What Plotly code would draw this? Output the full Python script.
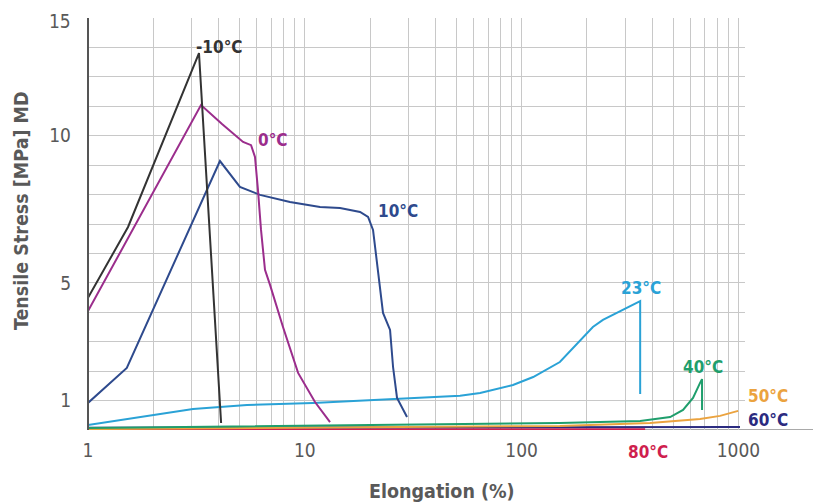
import plotly.graph_objects as go

# ---- data ----
m10_x = [1, 1.53, 3.25, 4.11]
m10_y = [4.49, 6.90, 12.81, 0.24]

c0_x = [1, 3.32, 4.15, 5.19, 5.65, 5.89, 6.08, 6.28, 6.55, 6.91, 7.93, 9.31, 11.14, 13.07]
c0_y = [4.04, 11.04, 10.40, 9.79, 9.68, 9.28, 8.15, 6.80, 5.44, 4.93, 3.50, 1.94, 0.95, 0.27]

c10_x = [1, 1.51, 4.06, 5.02, 6.21, 8.54, 11.75, 14.53, 17.98, 19.57, 20.63, 21.53, 22.94, 24.72, 25.52, 26.62, 29.60]
c10_y = [0.92, 2.11, 9.14, 8.26, 7.99, 7.75, 7.58, 7.54, 7.41, 7.24, 6.80, 5.67, 3.98, 3.40, 2.14, 1.09, 0.44]

c23_x = [1, 2.0, 3.05, 4.06, 5.41, 10.9, 26.9, 52.0, 64.3, 91.2, 113, 150, 213, 237, 352, 352]
c23_y = [0.17, 0.51, 0.71, 0.78, 0.85, 0.92, 1.05, 1.16, 1.26, 1.53, 1.80, 2.31, 3.50, 3.74, 4.38, 1.22]

c40_x = [1, 14.5, 150, 352, 484, 555, 617, 665, 679, 679]
c40_y = [0.07, 0.17, 0.24, 0.31, 0.44, 0.68, 1.09, 1.60, 1.73, 0.68]

c50_x = [1, 150, 391, 665, 822, 915, 996]
c50_y = [0.03, 0.14, 0.24, 0.37, 0.48, 0.58, 0.65]

c60_x = [1, 1016]
c60_y = [0.08, 0.10]

c80_x = [1, 371]
c80_y = [0.0, 0.0]

x_grid_vals = [1, 2, 3, 4, 5, 6, 7, 8, 9, 10, 20, 30, 40, 50, 60, 70, 80, 90,
               100, 200, 300, 400, 500, 600, 700, 800, 900, 1000]
x_tick_labels = {1: "1", 10: "10", 100: "100", 1000: "1000"}
y_grid_vals = list(range(1, 14))
y_tick_labels = {1: "1", 5: "5", 10: "10"}
y_top_label = "15"

series = [
    ("80°C", c80_x, c80_y, "#cf1f4e", 3.5),
    ("60°C", c60_x, c60_y, "#2b2b80", 2),
    ("50°C", c50_x, c50_y, "#eba33f", 2),
    ("40°C", c40_x, c40_y, "#1f9e6c", 2),
    ("23°C", c23_x, c23_y, "#2aa2d6", 2),
    ("10°C", c10_x, c10_y, "#2e4a8d", 2),
    ("0°C", c0_x, c0_y, "#9b2d8c", 2),
    ("-10°C", m10_x, m10_y, "#333333", 2),
]

# label positions in paper fractions of the plot area
labels = [
    ("-10°C", 0.2009, 0.9296, "#333333"),
    ("0°C", 0.2816, 0.7039, "#9b2d8c"),
    ("10°C", 0.4718, 0.5316, "#2e4a8d"),
    ("23°C", 0.8417, 0.3447, "#2aa2d6"),
    ("40°C", 0.9361, 0.1529, "#1f9e6c"),
    ("50°C", 1.035, 0.0825, "#eba33f"),
    ("60°C", 1.035, 0.0243, "#2b2b80"),
    ("80°C", 0.852, -0.0534, "#cf1f4e"),
]

FONT = "DejaVu Sans Condensed, DejaVu Sans, sans-serif"
GRAY = "#595959"

fig = go.Figure()
for name, xs, ys, col, w in series:
    fig.add_trace(go.Scatter(x=xs, y=ys, mode="lines", name=name,
                             line=dict(color=col, width=w), cliponaxis=False,
                             hoverinfo="skip"))

for txt, lx, ly, col in labels:
    fig.add_annotation(x=lx, y=ly, xref="paper", yref="paper", text=f"<b>{txt}</b>",
                       showarrow=False, xanchor="center", yanchor="middle",
                       font=dict(family=FONT, size=17, color=col))

# top y label
fig.add_annotation(x=-0.043, y=0.992, xref="paper", yref="paper", text=y_top_label,
                   showarrow=False, xanchor="center", yanchor="middle",
                   font=dict(family=FONT, size=19, color=GRAY))

# axis titles
fig.add_annotation(x=-0.1005, y=0.534, xref="paper", yref="paper",
                   text="<b>Tensile Stress [MPa] MD</b>", textangle=-90,
                   showarrow=False, xanchor="center", yanchor="middle",
                   font=dict(family=FONT, size=19.5, color=GRAY))
fig.add_annotation(x=0.539, y=-0.150, xref="paper", yref="paper",
                   text="<b>Elongation (%)</b>",
                   showarrow=False, xanchor="center", yanchor="middle",
                   font=dict(family=FONT, size=19.5, color=GRAY))

# extended x axis line to the right edge
fig.add_shape(type="line", xref="paper", yref="y", x0=0, x1=1.116, y0=0, y1=0,
              line=dict(color="#8c8c8c", width=1.5), layer="below")
# y axis line
fig.add_shape(type="line", xref="paper", yref="paper", x0=0, x1=0, y0=0, y1=1,
              line=dict(color="#555555", width=2), layer="above")

fig.update_layout(
    width=813, height=494, autosize=False,
    margin=dict(l=80, r=76, t=10, b=72, autoexpand=False),
    paper_bgcolor="white", plot_bgcolor="white",
    showlegend=False,
    font=dict(family=FONT, size=19, color=GRAY),
)
fig.update_xaxes(
    type="log", range=[0, 3.03],
    tickvals=x_grid_vals,
    ticktext=[x_tick_labels.get(v, "") for v in x_grid_vals],
    showgrid=True, gridcolor="#c8c8c8", gridwidth=1,
    showline=False, zeroline=False, ticks="",
    ticklabelstandoff=7,
    tickfont=dict(family=FONT, size=19, color=GRAY),
)
fig.update_yaxes(
    range=[0, 14],
    tickvals=y_grid_vals,
    ticktext=[y_tick_labels.get(v, "") for v in y_grid_vals],
    showgrid=True, gridcolor="#c8c8c8", gridwidth=1,
    showline=False, zeroline=False, ticks="",
    ticklabelstandoff=16,
    tickfont=dict(family=FONT, size=19, color=GRAY),
)

fig.write_html("out.html")
